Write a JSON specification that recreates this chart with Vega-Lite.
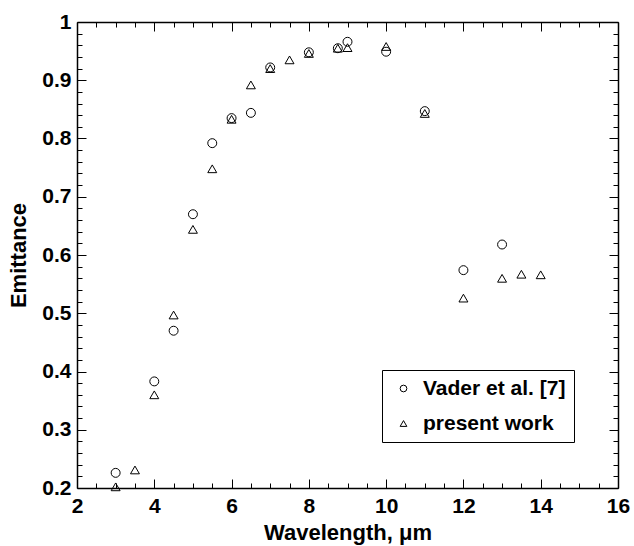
{
  "$schema": "https://vega.github.io/schema/vega-lite/v6.json",
  "width": 541,
  "height": 466,
  "autosize": {"type": "none"},
  "padding": {"left": 77, "top": 22, "right": 16, "bottom": 58},
  "background": "white",
  "config": {
    "font": "Liberation Sans",
    "view": {"stroke": null},
    "axis": {
      "domainColor": "black",
      "domainWidth": 1.5,
      "tickColor": "black",
      "tickWidth": 1,
      "grid": false,
      "labelFont": "Liberation Sans",
      "labelFontWeight": "bold",
      "labelFontSize": 21,
      "labelColor": "black",
      "titleFont": "Liberation Sans",
      "titleFontWeight": "bold",
      "titleFontSize": 22,
      "titleColor": "black",
      "labelOverlap": false,
      "labelBound": false,
      "labelFlush": false
    }
  },
  "data": {
    "values": [
      {"wavelength": 3, "emittance": 0.226, "source": "Vader et al. [7]"},
      {"wavelength": 4, "emittance": 0.383, "source": "Vader et al. [7]"},
      {"wavelength": 4.5, "emittance": 0.470, "source": "Vader et al. [7]"},
      {"wavelength": 5, "emittance": 0.670, "source": "Vader et al. [7]"},
      {"wavelength": 5.5, "emittance": 0.792, "source": "Vader et al. [7]"},
      {"wavelength": 6, "emittance": 0.835, "source": "Vader et al. [7]"},
      {"wavelength": 6.5, "emittance": 0.844, "source": "Vader et al. [7]"},
      {"wavelength": 7, "emittance": 0.922, "source": "Vader et al. [7]"},
      {"wavelength": 8, "emittance": 0.948, "source": "Vader et al. [7]"},
      {"wavelength": 8.75, "emittance": 0.955, "source": "Vader et al. [7]"},
      {"wavelength": 9, "emittance": 0.966, "source": "Vader et al. [7]"},
      {"wavelength": 10, "emittance": 0.949, "source": "Vader et al. [7]"},
      {"wavelength": 11, "emittance": 0.847, "source": "Vader et al. [7]"},
      {"wavelength": 12, "emittance": 0.574, "source": "Vader et al. [7]"},
      {"wavelength": 13, "emittance": 0.618, "source": "Vader et al. [7]"},
      {"wavelength": 3, "emittance": 0.202, "source": "present work"},
      {"wavelength": 3.5, "emittance": 0.231, "source": "present work"},
      {"wavelength": 4, "emittance": 0.360, "source": "present work"},
      {"wavelength": 4.5, "emittance": 0.497, "source": "present work"},
      {"wavelength": 5, "emittance": 0.644, "source": "present work"},
      {"wavelength": 5.5, "emittance": 0.748, "source": "present work"},
      {"wavelength": 6, "emittance": 0.833, "source": "present work"},
      {"wavelength": 6.5, "emittance": 0.892, "source": "present work"},
      {"wavelength": 7, "emittance": 0.920, "source": "present work"},
      {"wavelength": 7.5, "emittance": 0.935, "source": "present work"},
      {"wavelength": 8, "emittance": 0.946, "source": "present work"},
      {"wavelength": 8.75, "emittance": 0.955, "source": "present work"},
      {"wavelength": 9, "emittance": 0.956, "source": "present work"},
      {"wavelength": 10, "emittance": 0.958, "source": "present work"},
      {"wavelength": 11, "emittance": 0.843, "source": "present work"},
      {"wavelength": 12, "emittance": 0.526, "source": "present work"},
      {"wavelength": 13, "emittance": 0.560, "source": "present work"},
      {"wavelength": 13.5, "emittance": 0.567, "source": "present work"},
      {"wavelength": 14, "emittance": 0.566, "source": "present work"}
    ]
  },
  "layer": [
    {
      "mark": {"type": "point", "opacity": 0},
      "encoding": {
        "x": {
          "field": "wavelength", "type": "quantitative",
          "scale": {"domain": [2, 16], "nice": false, "zero": false},
          "axis": {"orient": "bottom", "title": null, "labels": false, "domain": false, "values": [2,4,6,8,10,12,14,16], "tickSize": -9}
        },
        "y": {
          "field": "emittance", "type": "quantitative",
          "scale": {"domain": [0.2, 1], "nice": false, "zero": false},
          "axis": {"orient": "left", "title": null, "labels": false, "domain": false, "values": [0.2,0.3,0.4,0.5,0.6,0.7,0.8,0.9,1], "tickSize": -9}
        }
      }
    },
    {
      "mark": {"type": "point", "filled": false, "color": "black", "strokeWidth": 1, "size": 80, "opacity": 1},
      "encoding": {
        "x": {
          "field": "wavelength", "type": "quantitative",
          "scale": {"domain": [2, 16], "nice": false, "zero": false},
          "axis": {
            "orient": "bottom", "title": "Wavelength, μm", "titlePadding": 6,
            "values": [2,4,6,8,10,12,14,16], "ticks": false, "labelPadding": 7
          }
        },
        "y": {
          "field": "emittance", "type": "quantitative",
          "scale": {"domain": [0.2, 1], "nice": false, "zero": false},
          "axis": {
            "orient": "left", "title": "Emittance", "titlePadding": 11,
            "values": [0.2,0.3,0.4,0.5,0.6,0.7,0.8,0.9,1], "format": "~g", "ticks": false, "labelPadding": 6
          }
        },
        "shape": {
          "field": "source", "type": "nominal",
          "scale": {"domain": ["Vader et al. [7]", "present work"], "range": ["circle", "triangle-up"]},
          "legend": {
            "title": null,
            "orient": "none",
            "legendX": 305,
            "legendY": 348,
            "strokeColor": "black",
            "fillColor": "white",
            "padding": 8,
            "symbolSize": 45,
            "symbolStrokeColor": "black",
            "symbolStrokeWidth": 1,
            "symbolFillColor": "transparent",
            "symbolOffset": 3,
            "labelFont": "Liberation Sans",
            "labelFontWeight": "bold",
            "labelFontSize": 21,
            "labelColor": "black",
            "labelOffset": 9,
            "rowPadding": 13,
            "labelLimit": 300,
            "encode": {"legend": {"update": {"strokeWidth": {"value": 2}}}}
          }
        }
      }
    },
    {
      "mark": {"type": "point", "opacity": 0},
      "encoding": {
        "x": {
          "field": "wavelength", "type": "quantitative",
          "scale": {"domain": [2, 16], "nice": false, "zero": false},
          "axis": {"orient": "bottom", "title": null, "labels": false, "domain": false, "values": [2.5,3,3.5,4.5,5,5.5,6.5,7,7.5,8.5,9,9.5,10.5,11,11.5,12.5,13,13.5,14.5,15,15.5], "tickSize": -5}
        },
        "y": {
          "field": "emittance", "type": "quantitative",
          "scale": {"domain": [0.2, 1], "nice": false, "zero": false},
          "axis": {"orient": "left", "title": null, "labels": false, "domain": false, "values": [0.22,0.24,0.26,0.28,0.32,0.34,0.36,0.38,0.42,0.44,0.46,0.48,0.52,0.54,0.56,0.58,0.62,0.64,0.66,0.68,0.72,0.74,0.76,0.78,0.82,0.84,0.86,0.88,0.92,0.94,0.96,0.98], "tickSize": -5}
        }
      }
    },
    {
      "mark": {"type": "point", "opacity": 0},
      "encoding": {
        "x": {
          "field": "wavelength", "type": "quantitative",
          "scale": {"domain": [2, 16], "nice": false, "zero": false},
          "axis": {"orient": "top", "title": null, "labels": false, "values": [2,4,6,8,10,12,14,16], "tickSize": -9}
        },
        "y": {
          "field": "emittance", "type": "quantitative",
          "scale": {"domain": [0.2, 1], "nice": false, "zero": false},
          "axis": {"orient": "right", "title": null, "labels": false, "values": [0.2,0.3,0.4,0.5,0.6,0.7,0.8,0.9,1], "tickSize": -9}
        }
      }
    },
    {
      "mark": {"type": "point", "opacity": 0},
      "encoding": {
        "x": {
          "field": "wavelength", "type": "quantitative",
          "scale": {"domain": [2, 16], "nice": false, "zero": false},
          "axis": {"orient": "top", "title": null, "labels": false, "domain": false, "values": [2.5,3,3.5,4.5,5,5.5,6.5,7,7.5,8.5,9,9.5,10.5,11,11.5,12.5,13,13.5,14.5,15,15.5], "tickSize": -5}
        },
        "y": {
          "field": "emittance", "type": "quantitative",
          "scale": {"domain": [0.2, 1], "nice": false, "zero": false},
          "axis": {"orient": "right", "title": null, "labels": false, "domain": false, "values": [0.22,0.24,0.26,0.28,0.32,0.34,0.36,0.38,0.42,0.44,0.46,0.48,0.52,0.54,0.56,0.58,0.62,0.64,0.66,0.68,0.72,0.74,0.76,0.78,0.82,0.84,0.86,0.88,0.92,0.94,0.96,0.98], "tickSize": -5}
        }
      }
    }
  ],
  "resolve": {"axis": {"x": "independent", "y": "independent"}}
}
